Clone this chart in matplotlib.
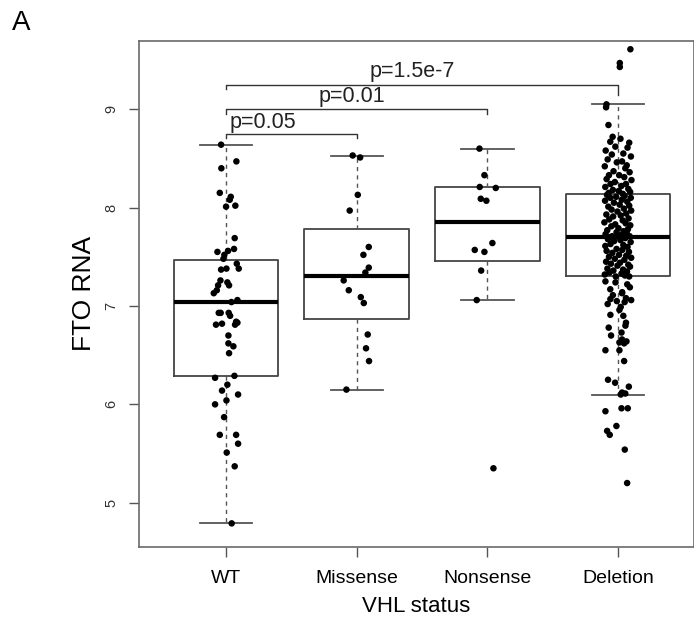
"""
FTO RNA by VHL status: R-style boxplot with jittered points.
"""

import matplotlib
matplotlib.use('Agg')
from matplotlib import pyplot as plt

plt.rcParams['font.family'] = ['Liberation Sans', 'DejaVu Sans']

groups = ['WT', 'Missense', 'Nonsense', 'Deletion']

# box statistics (R boxplot: hinges, median, whisker ends)
box_q1 = [6.285, 6.865, 7.461, 7.30]
box_med = [7.044, 7.30, 7.857, 7.70]
box_q3 = [7.468, 7.78, 8.207, 8.142]
whis_lo = [4.79, 6.146, 7.061, 6.10]
whis_hi = [8.64, 8.528, 8.60, 9.057]

# jittered points: value and horizontal jitter offset
wt_y = [8.64, 8.47, 8.40, 8.15, 8.11, 8.08, 8.01, 8.02, 7.69, 7.56, 7.58, 7.55,
        7.52, 7.48, 7.43, 7.38, 7.37, 7.38, 7.26, 7.24, 7.21, 7.21, 7.16, 7.13,
        7.04, 7.06, 6.93, 6.93, 6.93, 6.90, 6.81, 6.82, 6.84, 6.83, 6.81, 6.70,
        6.62, 6.59, 6.52, 6.27, 6.29, 6.20, 6.14, 6.10, 6.00, 6.04, 5.87, 5.69,
        5.69, 5.60, 5.51, 5.37, 4.79]
wt_dx = [-0.038, 0.079, -0.036, -0.048, 0.036, 0.028, 0.0, 0.071, 0.066, 0.015,
         0.061, -0.066, -0.013, -0.020, 0.082, 0.097, -0.038, 0.003, -0.043, 0.010,
         -0.061, 0.023, -0.071, -0.094, 0.041, 0.087, -0.056, -0.041, 0.020, 0.031,
         -0.077, -0.031, 0.077, 0.087, 0.069, 0.018, 0.018, 0.056, 0.023, -0.084,
         0.064, 0.010, -0.031, 0.092, -0.084, 0.003, -0.015, -0.048, 0.077, 0.092,
         0.005, 0.066, 0.043]

mis_y = [8.53, 8.51, 8.13, 7.97, 7.60, 7.52, 7.39, 7.34, 7.26, 7.16, 7.09, 7.03,
         6.71, 6.57, 6.44, 6.15]
mis_dx = [-0.031, 0.026, 0.008, -0.054, 0.092, 0.051, 0.092, 0.066, -0.100,
          -0.061, 0.031, 0.054, 0.084, 0.071, 0.094, -0.079]

non_y = [8.60, 8.33, 8.21, 8.20, 8.09, 8.07, 7.64, 7.57, 7.55, 7.36, 7.06, 5.35]
non_dx = [-0.061, -0.023, -0.059, 0.064, -0.051, -0.008, 0.038, -0.097, -0.023,
          -0.048, -0.082, 0.046]

del_y = [9.61, 9.47, 9.43, 9.05, 9.02, 8.84, 8.72, 8.70, 8.67, 8.66, 8.62, 8.61,
         8.58, 8.55, 8.54, 8.52, 8.49, 8.47, 8.46, 8.43, 8.42, 8.40, 8.37, 8.36,
         8.33, 8.33, 8.31, 8.29, 8.28, 8.26, 8.24, 8.24, 8.22, 8.21, 8.19, 8.18,
         8.17, 8.16, 8.15, 8.14,
         8.13, 8.12, 8.11, 8.10, 8.10, 8.08, 8.07, 8.06, 8.05, 8.03, 8.02, 8.01,
         7.99, 7.98, 7.97, 7.96, 7.94, 7.93, 7.92, 7.91, 7.89, 7.88, 7.87, 7.85,
         7.84, 7.83, 7.82, 7.81, 7.79, 7.78, 7.77, 7.76, 7.75, 7.74, 7.73, 7.72,
         7.71, 7.71, 7.70, 7.70,
         7.69, 7.68, 7.67, 7.66, 7.65, 7.63, 7.62, 7.61, 7.60, 7.58, 7.57, 7.56,
         7.55, 7.54, 7.52, 7.51, 7.50, 7.49, 7.48, 7.47, 7.45, 7.44, 7.43, 7.42,
         7.41, 7.40, 7.38, 7.37, 7.36, 7.35, 7.34, 7.33, 7.32, 7.31, 7.30, 7.30,
         7.25, 7.24, 7.22, 7.19, 7.17, 7.14, 7.13, 7.11, 7.08, 7.07, 7.06, 7.05,
         7.04, 7.02, 6.99, 6.96, 6.91, 6.90, 6.83, 6.80, 6.78, 6.73, 6.70, 6.66,
         6.64, 6.63, 6.62, 6.55, 6.55, 6.44, 6.25, 6.22, 6.18, 6.12, 6.11, 6.10,
         5.96, 5.96, 5.93, 5.78, 5.73, 5.69, 5.54, 5.20]
del_dx = [0.094, 0.013, 0.013, -0.089, -0.092, -0.074, -0.042, 0.018, -0.060, 0.085,
          -0.021, 0.072, -0.095, 0.040, -0.048, 0.098, -0.080, 0.030, -0.010, 0.066,
          -0.102, 0.055, -0.035, 0.088, -0.070, 0.008, 0.047, -0.088, 0.102, -0.025,
          0.060, -0.058, 0.025, -0.098, 0.078, -0.040, 0.005, 0.092, -0.072, 0.036,
          -0.085, 0.050, -0.015, 0.097, -0.060, 0.028, -0.100, 0.070, -0.032, 0.012,
          0.085, -0.075, 0.044, -0.050, 0.100, -0.005, 0.062, -0.090, 0.020, -0.038,
          0.080, -0.068, 0.035, -0.105, 0.058, -0.022, 0.093, -0.052, 0.003, 0.075,
          -0.083, 0.042, -0.012, 0.066, -0.096, 0.022, -0.045, 0.088, -0.064, 0.010,
          0.055, -0.078, 0.018, -0.030, 0.096, -0.058, 0.040, -0.098, 0.072, -0.012,
          0.032, -0.088, 0.083, -0.044, 0.007, 0.062, -0.070, 0.100, -0.025, 0.048,
          -0.092, 0.015, -0.055, 0.078, -0.005, 0.091, -0.082, 0.038, -0.036, 0.068,
          -0.066, 0.026, -0.102, 0.052, -0.018, 0.085,
          -0.097, -0.020, 0.070, 0.090, -0.060, 0.031, 0.030, -0.040, 0.060, -0.059,
          0.100, -0.010, 0.050, -0.080, 0.020, 0.010, -0.059, 0.040, 0.060, 0.056,
          -0.072, 0.026, -0.054, 0.030, 0.064, 0.010, 0.046, -0.097, 0.010, 0.046,
          -0.077, -0.023, 0.082, 0.030, 0.055, 0.020, 0.026, 0.074, -0.097, -0.013,
          -0.084, -0.064, 0.051, 0.069]

# significance brackets: left group, right group, bracket height, label
bracket_lo = [1, 1, 1]
bracket_hi = [2, 3, 4]
bracket_y = [8.75, 9.00, 9.25]
bracket_drop = [0.045, 0.05, 0.11]
bracket_txt = ['p=0.05', 'p=0.01', 'p=1.5e-7']
bracket_txt_x = [1.025, 1.705, 2.10]
bracket_txt_y = [8.87, 9.125, 9.38]

fig = plt.figure(figsize=(6.94, 6.24), dpi=100)
ax = fig.add_axes([0.2007, 0.1239, 0.7986, 0.8104])

stats = []
for i, g in enumerate(groups):
    stats.append(dict(label=g, q1=box_q1[i], med=box_med[i], q3=box_q3[i],
                      whislo=whis_lo[i], whishi=whis_hi[i], fliers=[]))

ax.bxp(stats, positions=[1, 2, 3, 4], widths=0.8, showfliers=False,
       boxprops=dict(color='#444444', linewidth=1.3),
       medianprops=dict(color='black', linewidth=3),
       whiskerprops=dict(color='#555555', linewidth=1, linestyle=(0, (3, 3))),
       capprops=dict(color='#555555', linewidth=1.3),
       capwidths=0.4, zorder=1)

all_y = [wt_y, mis_y, non_y, del_y]
all_dx = [wt_dx, mis_dx, non_dx, del_dx]
for i in range(4):
    xs = [i + 1 + d for d in all_dx[i]]
    ax.scatter(xs, all_y[i], s=22, color='black', edgecolors='none', zorder=3)

for lo, hi, yb, dr, txt, tx, ty in zip(bracket_lo, bracket_hi, bracket_y,
                                       bracket_drop, bracket_txt, bracket_txt_x,
                                       bracket_txt_y):
    ax.plot([lo, lo, hi, hi], [yb - 0.045, yb, yb, yb - dr],
            color='#333333', linewidth=1, zorder=2)
    ax.text(tx, ty, txt, fontsize=15.5, ha='left', va='center', color='#222222')

ax.set_xlim(0.336, 4.577)
ax.set_ylim(4.553, 9.694)
ax.set_xticks([1, 2, 3, 4])
ax.set_xticklabels(groups, fontsize=14)
ax.set_yticks([5, 6, 7, 8, 9])
ax.set_yticklabels(['5', '6', '7', '8', '9'], rotation=90, va='center',
                   fontsize=10.5, color='#333333')
ax.tick_params(axis='y', length=7, width=1, color='#555555', pad=8)
ax.tick_params(axis='x', length=7, width=1, color='#555555', pad=10)
for sp in ax.spines.values():
    sp.set_color('#6a6a6a')
    sp.set_linewidth(1.2)

ax.set_xlabel('VHL status', fontsize=16, labelpad=6)
ax.set_ylabel('FTO RNA', fontsize=19, labelpad=6,
              family=['Liberation Sans Narrow', 'Liberation Sans'])

fig.text(0.017, 1 - 30 / 624, 'A', fontsize=20, va='baseline')

fig.savefig('out.png', dpi=100)
